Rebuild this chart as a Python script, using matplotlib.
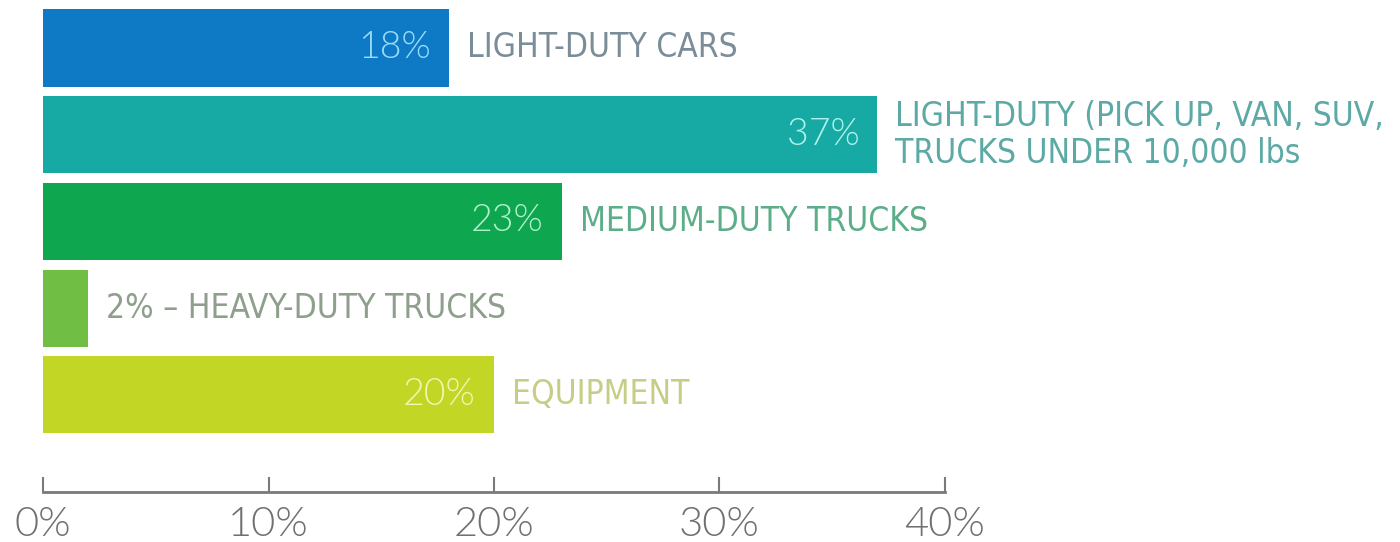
import matplotlib
matplotlib.use('Agg')
from matplotlib import pyplot as plt

# vehicle categories, share of fleet (%)
categories = [
    'LIGHT-DUTY CARS',
    'LIGHT-DUTY (PICK UP, VAN, SUV,\nTRUCKS UNDER 10,000 lbs',
    'MEDIUM-DUTY TRUCKS',
    'HEAVY-DUTY TRUCKS',
    'EQUIPMENT',
]
shares = [18, 37, 23, 2, 20]
x_ticks = [0, 10, 20, 30, 40]
tick_labels = ['0%', '10%', '20%', '30%', '40%']

bar_colors = ['#0E7AC6', '#17A9A4', '#0FA650', '#71BE45', '#C2D626']
value_colors = ['#9ADCFA', '#B0F2EA', '#AEF3CC', '#71BE45', '#F2F6B0']
label_colors = ['#7A8D99', '#5CA9A5', '#5CAE88', '#8E9F8C', '#C8CD86']

label_font = ['DejaVu Sans']
num_font = ['Lato', 'DejaVu Sans']

fig = plt.figure(figsize=(14, 5.42), dpi=100)
ax = fig.add_axes([43 / 1400, 50 / 542, 902 / 1400, 492 / 542])

pos = list(range(len(shares)))
ax.barh(pos, shares, height=0.89, color=bar_colors, align='center')
ax.set_xlim(0, 40)
ax.set_ylim(5.12, -0.553)

for i, (v, cat) in enumerate(zip(shares, categories)):
    if v >= 5:
        ax.text(v - 0.8, i, f'{v}%', ha='right', va='center',
                color=value_colors[i], fontsize=27, family=num_font,
                fontweight=300)
        ax.text(v + 0.8, i, cat, ha='left', va='center',
                color=label_colors[i], fontsize=24, family=label_font,
                fontstretch='condensed', linespacing=1.15)
    else:
        ax.text(v + 0.8, i, f'{v}% \u2013 {cat}', ha='left', va='center',
                color=label_colors[i], fontsize=24, family=label_font,
                fontstretch='condensed')

for side in ['top', 'right', 'left']:
    ax.spines[side].set_visible(False)
ax.spines['bottom'].set_color('#7a7a7a')
ax.spines['bottom'].set_linewidth(2)
ax.set_yticks([])
ax.set_xticks(x_ticks)
ax.set_xticklabels(tick_labels, fontsize=30, color='#707070',
                   family=num_font, fontweight=300)
ax.tick_params(axis='x', direction='in', length=11, width=1.5,
               color='#7a7a7a', pad=10)

fig.savefig('out.png', dpi=100)
